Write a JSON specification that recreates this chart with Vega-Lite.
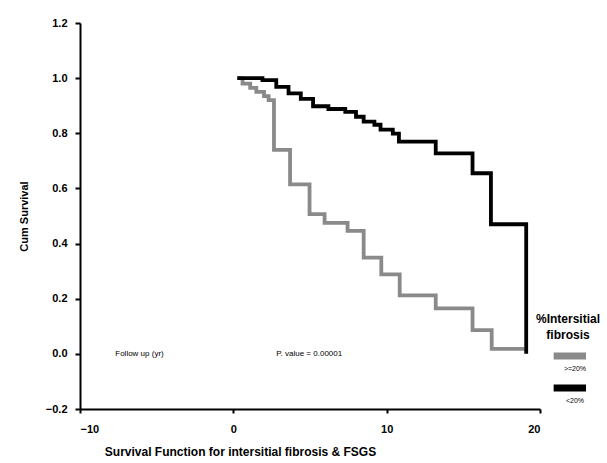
{
  "$schema": "https://vega.github.io/schema/vega-lite/v6.json",
  "width": 460,
  "height": 386,
  "autosize": {"type": "none"},
  "padding": {"left": 80, "top": 23, "right": 67, "bottom": 54},
  "background": "white",
  "config": {
    "view": {"stroke": null},
    "font": "Liberation Sans",
    "axis": {
      "grid": false,
      "domainColor": "#000000",
      "domainWidth": 2,
      "tickColor": "#000000",
      "tickWidth": 2,
      "labelFont": "Liberation Sans",
      "labelFontWeight": "bold",
      "labelFontSize": 11,
      "labelColor": "#000000",
      "titleFont": "Liberation Sans",
      "titleFontWeight": "bold",
      "titleColor": "#000000"
    }
  },
  "layer": [
    {
      "data": {
        "values": [
          {"group": ">=20%", "time": 0.26, "survival": 1.0},
          {"group": ">=20%", "time": 0.6, "survival": 0.98},
          {"group": ">=20%", "time": 1.1, "survival": 0.965},
          {"group": ">=20%", "time": 1.5, "survival": 0.95},
          {"group": ">=20%", "time": 2.0, "survival": 0.935},
          {"group": ">=20%", "time": 2.3, "survival": 0.92},
          {"group": ">=20%", "time": 2.65, "survival": 0.74},
          {"group": ">=20%", "time": 3.7, "survival": 0.615},
          {"group": ">=20%", "time": 4.97, "survival": 0.507},
          {"group": ">=20%", "time": 5.95, "survival": 0.475},
          {"group": ">=20%", "time": 7.45, "survival": 0.446},
          {"group": ">=20%", "time": 8.5, "survival": 0.349},
          {"group": ">=20%", "time": 9.65, "survival": 0.288},
          {"group": ">=20%", "time": 10.85, "survival": 0.212},
          {"group": ">=20%", "time": 13.2, "survival": 0.165},
          {"group": ">=20%", "time": 15.6, "survival": 0.086},
          {"group": ">=20%", "time": 16.85, "survival": 0.018},
          {"group": ">=20%", "time": 19.0, "survival": 0.018},
          {"group": "<20%", "time": 0.26, "survival": 1.0},
          {"group": "<20%", "time": 1.9, "survival": 0.993},
          {"group": "<20%", "time": 2.8, "survival": 0.968},
          {"group": "<20%", "time": 3.6, "survival": 0.945},
          {"group": "<20%", "time": 4.4, "survival": 0.925},
          {"group": "<20%", "time": 5.2, "survival": 0.898},
          {"group": "<20%", "time": 6.2, "survival": 0.888},
          {"group": "<20%", "time": 7.3, "survival": 0.878},
          {"group": "<20%", "time": 8.0, "survival": 0.86},
          {"group": "<20%", "time": 8.5, "survival": 0.842},
          {"group": "<20%", "time": 9.2, "survival": 0.831},
          {"group": "<20%", "time": 9.6, "survival": 0.813},
          {"group": "<20%", "time": 10.4, "survival": 0.799},
          {"group": "<20%", "time": 10.8, "survival": 0.77},
          {"group": "<20%", "time": 13.2, "survival": 0.727},
          {"group": "<20%", "time": 15.6, "survival": 0.655},
          {"group": "<20%", "time": 16.8, "survival": 0.47},
          {"group": "<20%", "time": 19.1, "survival": 0.0}
        ]
      },
      "mark": {"type": "line", "interpolate": "step-after", "strokeWidth": 3.8},
      "encoding": {
        "x": {
          "field": "time",
          "type": "quantitative",
          "scale": {"domain": [-10, 20], "nice": false, "zero": false},
          "axis": {
            "values": [-10, 0, 10, 20],
            "tickSize": 4,
            "labelPadding": 10,
            "title": "Survival Function for intersitial fibrosis & FSGS",
            "titleFontSize": 12,
            "titleColor": "#000000",
            "titlePadding": 12,
            "titleX": 160,
            "titleAnchor": "middle"
          }
        },
        "y": {
          "field": "survival",
          "type": "quantitative",
          "scale": {"domain": [-0.2, 1.2], "nice": false, "zero": false},
          "axis": {
            "values": [-0.2, 0, 0.2, 0.4, 0.6, 0.8, 1.0, 1.2],
            "format": ".1f",
            "tickSize": 5,
            "labelPadding": 8,
            "title": "Cum Survival",
            "titleFontSize": 11,
            "titleColor": "#000000",
            "titlePadding": 16
          }
        },
        "color": {
          "field": "group",
          "type": "nominal",
          "scale": {"domain": [">=20%", "<20%"], "range": ["#8a8a8a", "#000000"]},
          "legend": {
            "orient": "none",
            "legendX": 456,
            "legendY": 291,
            "title": ["%Intersitial", "fibrosis"],
            "titleFont": "Liberation Sans",
            "titleFontWeight": "bold",
            "titleFontSize": 12,
            "titleLineHeight": 16,
            "titleColor": "#000000",
            "titleAlign": "center",
            "titleAnchor": "middle",
            "titlePadding": 9,
            "symbolType": "stroke",
            "symbolSize": 2000,
            "symbolStrokeWidth": 7,
            "labelFontSize": 7,
            "labelColor": "#000000",
            "labelAlign": "center",
            "labelOffset": 0,
            "clipHeight": 10,
            "rowPadding": 11,
            "encode": {"labels": {"update": {"dx": {"value": -27}, "dy": {"value": 13}}}}
          }
        }
      }
    },
    {
      "data": {"values": [{}]},
      "mark": {"type": "text", "align": "left", "baseline": "middle", "fontSize": 8, "font": "Liberation Sans", "color": "#000000", "text": "Follow up (yr)"},
      "encoding": {"x": {"datum": -7.7}, "y": {"datum": 0.0}}
    },
    {
      "data": {"values": [{}]},
      "mark": {"type": "text", "align": "left", "baseline": "middle", "fontSize": 8, "font": "Liberation Sans", "color": "#000000", "text": "P. value = 0.00001"},
      "encoding": {"x": {"datum": 2.8}, "y": {"datum": 0.0}}
    }
  ]
}
